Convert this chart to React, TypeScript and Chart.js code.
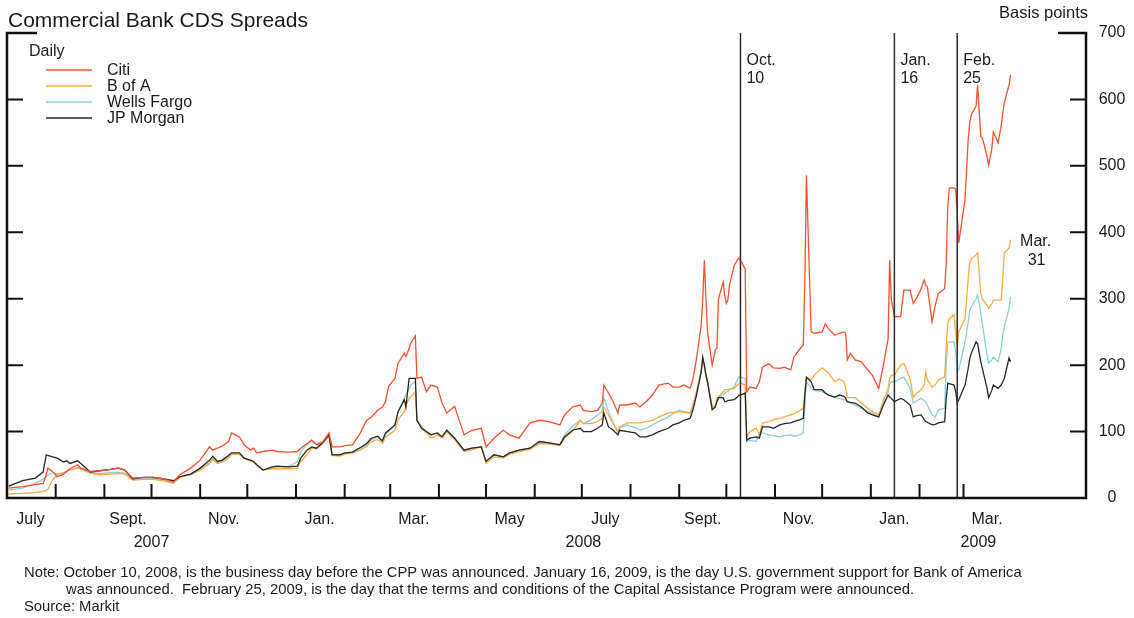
import React, { useEffect, useRef } from "react";
import { Chart, registerables } from "chart.js";

Chart.register(...registerables);

// ---------- data ----------
const dates: string[] = [
  "2007-07-02", "2007-07-11", "2007-07-19", "2007-07-24", "2007-07-26", "2007-07-27", "2007-07-30", "2007-08-02",
  "2007-08-06", "2007-08-08", "2007-08-10", "2007-08-15", "2007-08-17", "2007-08-23", "2007-08-29", "2007-09-05",
  "2007-09-10", "2007-09-14", "2007-09-19", "2007-09-26", "2007-10-02", "2007-10-08", "2007-10-15", "2007-10-19",
  "2007-10-26", "2007-11-01", "2007-11-07", "2007-11-09", "2007-11-12", "2007-11-15", "2007-11-19", "2007-11-21",
  "2007-11-26", "2007-11-29", "2007-12-03", "2007-12-05", "2007-12-07", "2007-12-11", "2007-12-17", "2007-12-20",
  "2007-12-27", "2008-01-02", "2008-01-04", "2008-01-08", "2008-01-11", "2008-01-14", "2008-01-18", "2008-01-22",
  "2008-01-24", "2008-01-29", "2008-02-01", "2008-02-06", "2008-02-11", "2008-02-15", "2008-02-18", "2008-02-22",
  "2008-02-25", "2008-02-27", "2008-02-29", "2008-03-04", "2008-03-06", "2008-03-10", "2008-03-11", "2008-03-13",
  "2008-03-14", "2008-03-17", "2008-03-18", "2008-03-21", "2008-03-24", "2008-03-27", "2008-03-31", "2008-04-03",
  "2008-04-06", "2008-04-11", "2008-04-17", "2008-04-22", "2008-04-28", "2008-05-01", "2008-05-06", "2008-05-12",
  "2008-05-16", "2008-05-22", "2008-05-29", "2008-06-04", "2008-06-10", "2008-06-17", "2008-06-20", "2008-06-25",
  "2008-06-30", "2008-07-02", "2008-07-07", "2008-07-11", "2008-07-14", "2008-07-15", "2008-07-18", "2008-07-21",
  "2008-07-24", "2008-07-25", "2008-07-30", "2008-08-04", "2008-08-07", "2008-08-11", "2008-08-15", "2008-08-19",
  "2008-08-25", "2008-08-28", "2008-09-01", "2008-09-04", "2008-09-08", "2008-09-10", "2008-09-12", "2008-09-15",
  "2008-09-16", "2008-09-17", "2008-09-18", "2008-09-19", "2008-09-22", "2008-09-24", "2008-09-25", "2008-09-26",
  "2008-09-29", "2008-09-30", "2008-10-01", "2008-10-02", "2008-10-03", "2008-10-06", "2008-10-08", "2008-10-09",
  "2008-10-10", "2008-10-13", "2008-10-14", "2008-10-16", "2008-10-20", "2008-10-22", "2008-10-24", "2008-10-28",
  "2008-10-31", "2008-11-04", "2008-11-07", "2008-11-11", "2008-11-13", "2008-11-17", "2008-11-19", "2008-11-20",
  "2008-11-21", "2008-11-24", "2008-11-26", "2008-12-01", "2008-12-03", "2008-12-05", "2008-12-09", "2008-12-12",
  "2008-12-15", "2008-12-16", "2008-12-17", "2008-12-19", "2008-12-22", "2008-12-26", "2008-12-30", "2009-01-02",
  "2009-01-06", "2009-01-09", "2009-01-12", "2009-01-13", "2009-01-14", "2009-01-16", "2009-01-20", "2009-01-22",
  "2009-01-26", "2009-01-28", "2009-01-30", "2009-02-02", "2009-02-04", "2009-02-05", "2009-02-06", "2009-02-09",
  "2009-02-11", "2009-02-13", "2009-02-17", "2009-02-18", "2009-02-19", "2009-02-20", "2009-02-23", "2009-02-24",
  "2009-02-25", "2009-02-26", "2009-03-02", "2009-03-04", "2009-03-05", "2009-03-06", "2009-03-09", "2009-03-10",
  "2009-03-12", "2009-03-13", "2009-03-16", "2009-03-17", "2009-03-19", "2009-03-20", "2009-03-23", "2009-03-25",
  "2009-03-26", "2009-03-27", "2009-03-30", "2009-03-31",
];

const citi: number[] = [
  15, 17, 20, 22, 35, 45, 40, 32, 36, 40, 44, 50, 45, 40, 41, 43,
  45, 42, 30, 31, 31, 29, 24, 35, 45, 57, 77, 72, 75, 78, 85, 98,
  92, 80, 72, 75, 68, 70, 72, 70, 69, 70, 75, 82, 87, 80, 84, 98,
  77, 77, 79, 80, 98, 117, 122, 132, 137, 145, 168, 180, 203, 218, 213, 225,
  233, 244, 180, 182, 160, 170, 167, 143, 128, 138, 95, 102, 105, 77, 90, 102,
  95, 90, 113, 117, 115, 110, 125, 137, 140, 132, 130, 132, 143, 170, 158, 145,
  128, 140, 140, 143, 137, 145, 155, 170, 173, 167, 167, 170, 165, 182, 210, 260,
  300, 358, 300, 250, 200, 223, 225, 300, 325, 305, 293, 298, 320, 350, 358, 361,
  358, 345, 160, 167, 165, 175, 197, 202, 196, 195, 197, 193, 212, 225, 230, 330,
  486, 250, 248, 250, 262, 255, 245, 248, 250, 248, 208, 218, 208, 205, 193, 185,
  165, 200, 240, 358, 300, 273, 273, 313, 313, 293, 300, 315, 328, 320, 318, 265,
  290, 308, 315, 353, 440, 467, 467, 465, 429, 384, 450, 540, 565, 577, 590, 622,
  544, 542, 515, 501, 525, 551, 535, 560, 580, 595, 622, 637,
];

const bankOfAmerica: number[] = [
  6, 7, 8, 10, 12, 13, 27, 35, 38, 40, 42, 46, 44, 38, 35, 36,
  37, 36, 27, 28, 28, 26, 22, 31, 35, 42, 52, 58, 52, 54, 60, 66,
  66, 60, 56, 54, 50, 42, 44, 44, 44, 45, 55, 65, 75, 74, 82, 94,
  64, 63, 66, 68, 72, 78, 85, 88, 82, 92, 95, 102, 118, 130, 140, 150,
  152, 160, 117, 105, 98, 90, 95, 90, 100, 88, 70, 73, 77, 52, 62, 60,
  66, 70, 73, 82, 81, 79, 90, 100, 117, 112, 112, 115, 120, 137, 125, 112,
  100, 107, 113, 113, 113, 115, 117, 122, 128, 129, 130, 129, 128, 140, 160, 190,
  208, 200, 185, 175, 138, 140, 150, 152, 160, 163, 163, 163, 164, 165, 170, 172,
  173, 170, 92, 100, 105, 95, 113, 115, 118, 120, 122, 125, 127, 132, 135, 160,
  182, 178, 185, 196, 192, 188, 175, 179, 175, 165, 151, 151, 151, 143, 135, 130,
  125, 145, 165, 180, 185, 185, 200, 203, 180, 152, 157, 163, 170, 190, 178, 167,
  170, 178, 182, 230, 263, 270, 276, 250, 228, 250, 270, 330, 355, 360, 366, 369,
  308, 300, 290, 286, 292, 298, 298, 298, 330, 369, 376, 389,
];

const wellsFargo: number[] = [
  12, 15, 22, 28, 32, 35, 38, 36, 38, 40, 42, 45, 43, 38, 37, 38,
  39, 38, 28, 29, 29, 27, 23, 32, 36, 42, 54, 60, 53, 55, 62, 66,
  66, 60, 56, 54, 50, 42, 45, 47, 47, 55, 70, 80, 85, 82, 85, 95,
  65, 65, 67, 69, 75, 80, 88, 92, 85, 96, 100, 108, 130, 150, 155, 165,
  170, 175, 117, 108, 100, 95, 98, 92, 102, 90, 72, 75, 77, 55, 65, 62,
  68, 72, 75, 85, 83, 81, 95, 108, 117, 112, 118, 125, 130, 151, 130, 112,
  98, 105, 110, 106, 102, 105, 110, 115, 122, 127, 132, 130, 128, 143, 160, 190,
  208, 200, 185, 175, 135, 138, 148, 152, 155, 158, 160, 160, 163, 167, 178, 182,
  182, 180, 85, 87, 85, 98, 98, 95, 94, 92, 94, 95, 93, 95, 98, 140,
  175, 165, 162, 160, 158, 155, 151, 150, 148, 147, 145, 143, 140, 135, 130, 127,
  122, 148, 160, 172, 175, 175, 180, 182, 165, 143, 146, 150, 146, 145, 140, 125,
  122, 133, 135, 200, 235, 235, 235, 220, 190, 193, 235, 265, 283, 288, 300, 306,
  278, 262, 215, 203, 208, 212, 205, 225, 245, 258, 285, 303,
];

const jpMorgan: number[] = [
  18, 26, 30, 39, 65, 64, 62, 60, 54, 56, 52, 56, 52, 39, 41, 43,
  45, 42, 29, 31, 31, 29, 26, 32, 36, 45, 57, 63, 55, 57, 64, 68,
  68, 60, 57, 55, 50, 42, 47, 48, 47, 48, 60, 72, 77, 75, 83, 95,
  65, 65, 68, 69, 76, 82, 90, 93, 86, 98, 102, 110, 130, 148, 137, 180,
  180, 180, 117, 105, 100, 95, 98, 92, 102, 90, 72, 75, 77, 55, 65, 62,
  68, 72, 75, 85, 83, 80, 92, 102, 105, 100, 100, 105, 110, 128, 107, 102,
  95, 102, 100, 98, 92, 92, 95, 100, 105, 110, 113, 117, 120, 135, 155, 190,
  212, 200, 185, 175, 133, 137, 145, 151, 151, 145, 145, 147, 147, 148, 152, 155,
  155, 158, 87, 90, 92, 90, 107, 107, 105, 110, 112, 113, 115, 118, 120, 155,
  182, 175, 163, 163, 158, 155, 152, 155, 153, 150, 145, 144, 143, 137, 128, 125,
  122, 140, 155, 152, 150, 145, 150, 148, 140, 122, 124, 125, 118, 115, 114, 110,
  111, 113, 115, 150, 173, 172, 170, 160, 143, 148, 170, 195, 210, 218, 235, 232,
  205, 195, 165, 151, 162, 170, 165, 170, 175, 180, 211, 205,
];

const seriesNames: string[] = ["Citi", "B of A", "Wells Fargo", "JP Morgan"];
const yTickValues: number[] = [0, 100, 200, 300, 400, 500, 600, 700];
const monthTickDates: string[] = [
  "2007-08-01", "2007-09-01", "2007-10-01", "2007-11-01", "2007-12-01", "2008-01-01", "2008-02-01",
  "2008-03-01", "2008-04-01", "2008-05-01", "2008-06-01", "2008-07-01", "2008-08-01", "2008-09-01",
  "2008-10-01", "2008-11-01", "2008-12-01", "2009-01-01", "2009-02-01", "2009-03-01",
];
const monthLabels: string[] = ["July", "Sept.", "Nov.", "Jan.", "Mar.", "May", "July", "Sept.", "Nov.", "Jan.", "Mar."];
const monthLabelDates: string[] = [
  "2007-07-16", "2007-09-16", "2007-11-16", "2008-01-16", "2008-03-16", "2008-05-16",
  "2008-07-16", "2008-09-16", "2008-11-16", "2009-01-16", "2009-03-16",
];
const yearLabels: string[] = ["2007", "2008", "2009"];
const yearStarts: string[] = ["2007-07-01", "2008-01-01", "2009-01-01"];
const yearEnds: string[] = ["2008-01-01", "2009-01-01", "2009-05-18"];
const eventDates: string[] = ["2008-10-10", "2009-01-16", "2009-02-25"];
const eventMonths: string[] = ["Oct.", "Jan.", "Feb."];
const eventDays: string[] = ["10", "16", "25"];
const endMonth = "Mar.";
const endDay = "31";
const axisStart = "2007-07-01";
const axisEnd = "2009-05-18";

const titleText = "Commercial Bank CDS Spreads";
const unitText = "Basis points";
const legendHeading = "Daily";
const noteLines: string[] = [
  "Note: October 10, 2008, is the business day before the CPP was announced. January 16, 2009, is the day U.S. government support for Bank of America",
  "was announced.  February 25, 2009, is the day that the terms and conditions of the Capital Assistance Program were announced.",
  "Source: Markit",
];

// ---------- helpers ----------
const BASE = (() => {
  const [y, m, d] = axisStart.split("-").map(Number);
  return Date.UTC(y, m - 1, d);
})();
function dayOf(s: string): number {
  const [y, m, d] = s.split("-").map(Number);
  return (Date.UTC(y, m - 1, d) - BASE) / 86400000;
}

const FONT = '"Liberation Sans", Arial, Helvetica, sans-serif';
const TEXT = "#1a1a1a";
const COLORS = ["#f4502c", "#ffaa40", "#8ccfd8", "#262626"];

const framePlugin = {
  id: "frame",
  afterDatasetsDraw(chart: any) {
    const { ctx, chartArea: a, scales } = chart;
    const xs = scales.x;
    const ys = scales.y;
    ctx.save();

    // event lines
    ctx.strokeStyle = "#2e2e2e";
    ctx.lineWidth = 1.5;
    eventDates.forEach((d) => {
      const px = xs.getPixelForValue(dayOf(d));
      ctx.beginPath();
      ctx.moveTo(px, a.top);
      ctx.lineTo(px, a.bottom);
      ctx.stroke();
    });

    // frame
    ctx.strokeStyle = "#111";
    ctx.lineWidth = 2.5;
    ctx.lineJoin = "miter";
    ctx.beginPath();
    ctx.moveTo(a.left + 30, a.top);
    ctx.lineTo(a.left, a.top);
    ctx.lineTo(a.left, a.bottom);
    ctx.lineTo(a.right, a.bottom);
    ctx.lineTo(a.right, a.top);
    ctx.lineTo(a.right - 28, a.top);
    ctx.stroke();

    // y ticks
    ctx.lineWidth = 2;
    yTickValues.forEach((v) => {
      if (v === yTickValues[0] || v === yTickValues[yTickValues.length - 1]) return;
      const py = ys.getPixelForValue(v);
      ctx.beginPath();
      ctx.moveTo(a.left, py);
      ctx.lineTo(a.left + 16, py);
      ctx.moveTo(a.right - 16, py);
      ctx.lineTo(a.right, py);
      ctx.stroke();
    });

    // x ticks
    monthTickDates.forEach((d) => {
      const px = xs.getPixelForValue(dayOf(d));
      ctx.beginPath();
      ctx.moveTo(px, a.bottom);
      ctx.lineTo(px, a.bottom - 14);
      ctx.stroke();
    });

    ctx.fillStyle = TEXT;
    // right axis labels
    ctx.font = `16px ${FONT}`;
    ctx.textAlign = "center";
    ctx.textBaseline = "middle";
    yTickValues.forEach((v) => {
      ctx.fillText(String(v), a.right + 26, ys.getPixelForValue(v));
    });
    ctx.textBaseline = "alphabetic";
    ctx.textAlign = "right";
    ctx.font = `16.5px ${FONT}`;
    ctx.fillText(unitText, a.right + 2, 18);
    ctx.font = `16px ${FONT}`;

    // month + year labels
    ctx.textAlign = "center";
    monthLabels.forEach((lab, i) => {
      ctx.fillText(lab, xs.getPixelForValue(dayOf(monthLabelDates[i])), a.bottom + 26);
    });
    yearLabels.forEach((lab, i) => {
      const p = (xs.getPixelForValue(dayOf(yearStarts[i])) + xs.getPixelForValue(dayOf(yearEnds[i]))) / 2;
      ctx.fillText(lab, p, a.bottom + 49);
    });

    // event labels
    ctx.textAlign = "left";
    eventDates.forEach((d, i) => {
      const px = xs.getPixelForValue(dayOf(d)) + 6;
      ctx.fillText(eventMonths[i], px, a.top + 32);
      ctx.fillText(eventDays[i], px, a.top + 50);
    });

    // end label
    const lastX = xs.getPixelForValue(dayOf(dates[dates.length - 1]));
    const lastY = ys.getPixelForValue(bankOfAmerica[bankOfAmerica.length - 1]);
    ctx.textAlign = "center";
    ctx.fillText(endMonth, lastX + 25, lastY + 6);
    ctx.fillText(endDay, lastX + 26, lastY + 25);

    // title
    ctx.textAlign = "left";
    ctx.font = `21px ${FONT}`;
    ctx.fillText(titleText, 8, 27);

    // legend
    ctx.font = `16px ${FONT}`;
    ctx.fillText(legendHeading, 29, 56);
    seriesNames.forEach((name, i) => {
      const base = 75 + i * 16;
      ctx.strokeStyle = COLORS[i];
      ctx.lineWidth = 1.5;
      ctx.beginPath();
      ctx.moveTo(46, base - 5);
      ctx.lineTo(92, base - 5);
      ctx.stroke();
      ctx.fillText(name, 107, base);
    });

    // notes
    ctx.font = `14.8px ${FONT}`;
    ctx.fillText(noteLines[0], 24, a.bottom + 79);
    ctx.fillText(noteLines[1], 66, a.bottom + 96);
    ctx.fillText(noteLines[2], 24, a.bottom + 113);

    ctx.restore();
  },
};

export default function App() {
  const canvasRef = useRef<HTMLCanvasElement | null>(null);

  useEffect(() => {
    const canvas = canvasRef.current;
    if (!canvas) return;
    const seriesValues = [citi, bankOfAmerica, wellsFargo, jpMorgan];
    const make = (i: number) => ({
      label: seriesNames[i],
      data: dates.map((d, k) => ({ x: dayOf(d), y: seriesValues[i][k] })),
      borderColor: COLORS[i],
      backgroundColor: COLORS[i],
      borderWidth: 1.3,
      pointRadius: 0,
      tension: 0,
      fill: false,
    });
    // draw order: index 0 ends on top
    const datasets = [make(0), make(3), make(1), make(2)];
    const chart = new Chart(canvas, {
      type: "line",
      data: { datasets },
      options: {
        animation: false,
        responsive: false,
        events: [],
        devicePixelRatio: 1,
        layout: { padding: { left: 7, right: 48, top: 33, bottom: 120 } },
        scales: {
          x: { type: "linear", min: 0, max: dayOf(axisEnd), display: false },
          y: { type: "linear", min: 0, max: 700, display: false },
        },
        plugins: {
          legend: { display: false },
          tooltip: { enabled: false },
          title: { display: false },
        },
      },
      plugins: [framePlugin],
    } as any);
    return () => chart.destroy();
  }, []);

  return (
    <div style={{ position: "fixed", left: 0, top: 0, width: 1134, height: 618, background: "#fff" }}>
      <canvas ref={canvasRef} width={1134} height={618} style={{ display: "block" }} />
    </div>
  );
}
